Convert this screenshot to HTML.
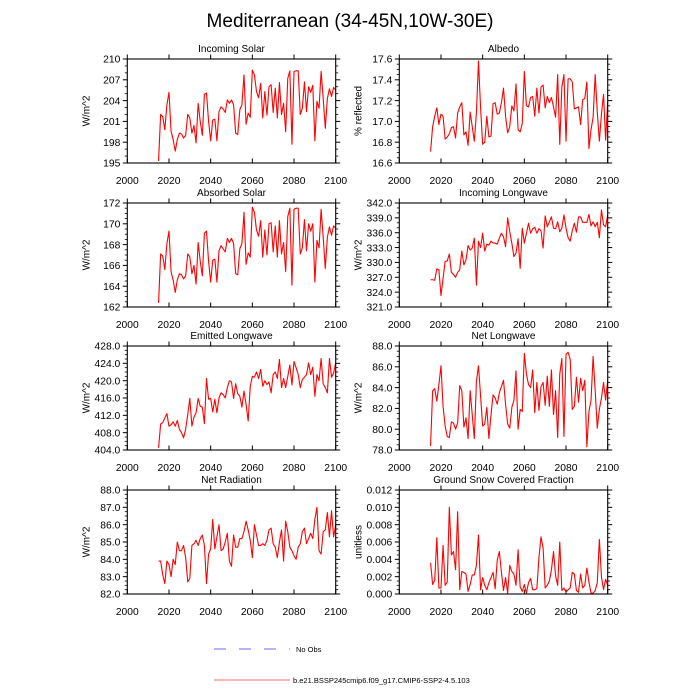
<!DOCTYPE html>
<html><head><meta charset="utf-8"><style>
html,body{margin:0;padding:0;background:#fff;}
svg{display:block;font-family:"Liberation Sans",sans-serif;}
</style></head><body>
<svg id="chart" width="700" height="700" viewBox="0 0 700 700">
<text x="350" y="27" text-anchor="middle" font-size="19">Mediterranean (34-45N,10W-30E)</text>
<g id="panels"></g>
<g>
<line x1="214" y1="649" x2="290" y2="649" stroke="#6b6bff" stroke-width="1" stroke-dasharray="12,13"/>
<text x="296" y="652" font-size="7.5">No Obs</text>
<line x1="214" y1="680" x2="290" y2="680" stroke="#f07070" stroke-width="1"/>
<text x="293" y="683" font-size="7.5">b.e21.BSSP245cmip6.f09_g17.CMIP6-SSP2-4.5.103</text>
</g>
</svg>
<script>
const years = []; for (let y = 2015; y <= 2100; y++) years.push(y);
const xTicks = [2000, 2020, 2040, 2060, 2080, 2100];
const incomingSolar = [195.3,202.0,201.7,199.8,203.4,205.2,199.6,198.4,196.7,198.4,199.3,199.2,198.6,199.0,202.0,201.5,199.3,200.4,197.9,203.6,201.0,199.0,204.9,205.1,201.0,198.2,201.2,201.3,198.2,202.4,203.1,202.8,202.3,204.1,203.6,204.1,203.4,199.3,199.1,202.7,203.4,207.7,200.6,202.2,201.6,208.4,207.7,205.3,204.4,206.5,201.5,205.3,201.9,206.0,206.3,202.3,205.8,201.5,206.6,202.0,203.6,199.5,207.2,208.3,197.7,208.2,208.3,208.3,202.0,202.9,206.7,202.4,206.0,205.2,206.2,198.2,203.9,202.9,208.2,204.3,200.0,204.3,205.7,204.6,205.9,205.5];
const albedo = [16.71,16.95,17.05,17.13,16.97,17.07,17.05,16.83,16.85,16.88,16.94,16.95,16.84,17.08,17.14,17.18,16.87,16.90,16.77,17.09,16.95,16.81,17.08,17.58,17.13,16.78,16.80,17.05,16.85,16.86,17.17,17.18,17.07,17.08,17.18,17.32,17.05,16.89,16.95,17.15,17.10,17.36,16.92,16.90,16.98,17.48,17.15,17.14,17.23,17.24,17.05,17.32,17.08,17.33,17.35,17.13,17.24,17.18,17.23,17.14,17.04,17.45,16.78,17.33,17.45,16.81,17.41,17.41,17.38,17.12,17.13,17.14,16.97,17.21,17.22,17.38,16.74,16.92,17.04,17.45,17.09,16.81,17.07,17.26,16.82,17.19];
const absorbedSolar = [162.4,167.1,166.9,165.6,168.1,169.3,165.4,164.6,163.4,164.6,165.2,165.1,164.7,165.0,167.1,166.8,165.2,166.0,164.2,168.2,166.4,165.0,169.1,169.3,166.4,164.4,166.5,166.6,164.4,167.4,167.9,167.6,167.3,168.6,168.2,168.6,168.1,165.2,165.1,167.6,168.1,171.1,166.1,167.2,166.8,171.6,171.1,169.4,168.8,170.3,166.8,169.4,167.0,170.0,170.1,167.3,169.8,166.8,170.3,167.1,168.2,165.4,170.7,171.5,164.1,171.4,171.5,171.5,167.1,167.7,170.4,167.4,170.0,169.3,170.0,164.4,168.4,167.7,171.4,168.7,165.7,168.7,169.7,168.9,169.8,169.6];
const incomingLW = [326.5,326.5,326.4,328.7,328.5,323.3,326.8,330.2,330.3,331.7,328.0,327.6,327.0,328.0,328.5,332.3,329.5,330.5,333.4,332.5,332.9,334.9,325.4,334.3,333.0,335.9,332.3,333.7,333.5,334.3,333.9,333.9,333.7,334.9,335.9,335.2,333.2,339.0,336.2,333.9,331.2,331.9,334.8,328.8,336.9,333.9,335.9,337.9,335.9,336.8,337.1,335.9,336.8,336.4,332.9,339.4,337.2,338.2,339.2,336.9,336.8,338.2,336.2,336.9,339.6,336.9,335.0,334.3,336.4,337.9,336.1,339.2,339.2,338.1,338.1,338.1,339.7,337.4,338.2,337.2,338.1,335.0,340.6,337.6,337.2,339.6];
const emittedLW = [404.5,410.0,410.3,411.4,412.4,409.5,409.8,410.5,409.5,410.8,408.8,408.0,406.8,408.8,412.2,415.9,409.5,411.6,412.6,415.9,414.1,413.9,410.1,420.5,415.7,415.9,412.8,415.7,412.6,416.0,417.2,416.8,416.0,418.4,420.0,419.7,415.9,419.3,417.0,416.4,413.9,417.6,414.5,410.7,418.7,421.0,420.8,422.0,420.5,422.6,418.7,420.0,419.1,419.7,417.2,421.4,422.0,420.5,424.9,418.4,420.5,418.4,421.0,423.6,419.0,424.4,423.0,421.4,418.4,420.3,420.8,421.4,424.1,421.4,423.1,416.4,421.4,420.0,425.1,419.3,418.4,417.2,425.1,420.8,421.8,424.1];
const netLW = [78.4,83.7,83.9,82.7,84.3,86.1,82.2,80.3,79.3,79.2,80.7,80.6,80.0,80.6,84.2,83.7,80.2,81.1,79.1,83.7,81.4,79.1,84.6,86.1,83.2,80.3,80.5,82.1,79.1,81.4,83.3,83.0,82.4,83.5,84.1,84.7,82.4,80.5,80.1,82.1,82.8,85.6,80.0,81.9,81.7,87.3,85.3,84.3,84.0,85.7,81.6,84.5,81.8,84.1,84.5,82.3,85.1,82.2,85.7,81.4,83.7,79.2,85.3,86.8,79.3,87.2,87.4,86.7,81.9,82.2,85.0,82.6,84.9,83.7,84.7,78.3,81.7,82.8,87.0,83.7,80.1,81.9,83.0,84.5,82.8,84.7];
const netRadiation = [83.9,83.9,83.1,82.6,83.9,83.7,83.0,84.0,83.7,85.0,84.5,84.5,84.8,84.1,82.7,82.9,84.8,84.9,85.1,84.8,85.2,85.4,84.8,82.6,84.3,84.6,86.3,84.6,85.3,86.0,84.5,84.6,85.0,85.5,83.9,83.6,85.4,84.7,84.7,85.2,85.2,85.6,86.2,85.7,85.1,84.1,86.0,85.4,84.8,84.8,84.9,84.8,85.1,85.7,85.8,84.9,84.7,84.1,85.0,85.7,83.9,86.2,85.6,84.7,84.5,84.2,84.0,84.7,84.9,85.6,85.8,84.9,85.2,85.5,85.2,86.3,87.0,84.5,84.3,85.6,85.7,86.7,85.3,86.8,85.3,86.0];
const snowFraction = [0.0036,0.0011,0.0016,0.0065,0.0007,0.0007,0.0056,0.0010,0.0014,0.0100,0.0045,0.0049,0.0028,0.0095,0.0005,0.0026,0.0025,0.0023,0.0003,0.0011,0.0022,0.0022,0.0033,0.0068,0.0005,0.0019,0.0010,0.0005,0.0013,0.0019,0.0025,0.0006,0.0039,0.0049,0.0025,0.0004,0.0019,0.0001,0.0033,0.0026,0.0023,0.0010,0.0051,0.0008,0.0003,0.0011,0.0001,0.0013,0.0018,0.0005,0.0005,0.0006,0.0042,0.0066,0.0053,0.0007,0.0010,0.0015,0.0028,0.0049,0.0021,0.0010,0.0060,0.0004,0.0007,0.0002,0.0005,0.0007,0.0025,0.0023,0.0004,0.0002,0.0023,0.0007,0.0010,0.0030,0.0014,0.0001,0.0001,0.0004,0.0013,0.0063,0.0020,0.0005,0.0017,0.0010];
const panelTitles = ["Incoming Solar","Albedo","Absorbed Solar","Incoming Longwave","Emitted Longwave","Net Longwave","Net Radiation","Ground Snow Covered Fraction"];
const yLabels = ["W/m^2","% reflected","W/m^2","W/m^2","W/m^2","W/m^2","W/m^2","unitless"];
const yMins = [195,16.6,162,321,404,78,82,0];
const yMaxs = [210,17.6,172,342,428,88,88,0.012];
const yMajor = [3,0.2,2,3,4,2,1,0.002];
const yMinorPer = [3,4,4,3,4,4,4,4];
const yDecimals = [0,1,0,1,1,1,1,3];
const seriesList = [incomingSolar,albedo,absorbedSolar,incomingLW,emittedLW,netLW,netRadiation,snowFraction];

const NS = "http://www.w3.org/2000/svg";
const root = document.getElementById("panels");
function mk(tag, attrs, parent) {
  const e = document.createElementNS(NS, tag);
  for (const k in attrs) e.setAttribute(k, attrs[k]);
  parent.appendChild(e);
  return e;
}
const colX = [127.3, 399.3], W = 208.4, H = 104;
const rowY = [59, 203, 346, 490];
for (let p = 0; p < 8; p++) {
  const left = colX[p % 2], top = rowY[Math.floor(p / 2)], right = left + W, bottom = top + H;
  const g = mk("g", {}, root);
  
  
  const xs = v => left + (v - 2000) / 100 * W;
  const ys = v => bottom - (v - yMins[p]) / (yMaxs[p] - yMins[p]) * H;
  const t = mk("text", {x: (left + right) / 2, y: top - 7, "text-anchor": "middle", "font-size": "10"}, g);
  t.textContent = panelTitles[p];
  
  
  const yl = mk("text", {x: 0, y: 0, "text-anchor": "middle", "font-size": "10", transform: `translate(${left - 38},${(top + bottom) / 2}) rotate(-90)`}, g);
  yl.textContent = yLabels[p];
  
  
  xTicks.forEach(v => {
    const x = xs(v);
    mk("line", {x1: x, y1: bottom, x2: x, y2: bottom - 4.5, stroke: "#000", "stroke-width": 1}, g);
    mk("line", {x1: x, y1: top, x2: x, y2: top - 4.5, stroke: "#000", "stroke-width": 1}, g);
    const lb = mk("text", {x: x, y: bottom + 21, "text-anchor": "middle", "font-size": "10.3"}, g);
    lb.textContent = v;
    
    
  });
  const nMaj = Math.round((yMaxs[p] - yMins[p]) / yMajor[p]);
  for (let i = 0; i <= nMaj; i++) {
    const v = yMins[p] + i * yMajor[p];
    const y = ys(v);
    mk("line", {x1: left, y1: y, x2: left - 4.5, y2: y, stroke: "#000", "stroke-width": 1}, g);
    mk("line", {x1: right, y1: y, x2: right + 4.5, y2: y, stroke: "#000", "stroke-width": 1}, g);
    const lb = mk("text", {x: left - 7, y: y + 3.7, "text-anchor": "end", "font-size": "10.3"}, g);
    lb.textContent = v.toFixed(yDecimals[p]);
    
    
    if (i < nMaj) {
      for (let m = 1; m < yMinorPer[p]; m++) {
        const ym = ys(v + m * yMajor[p] / yMinorPer[p]);
        mk("line", {x1: left, y1: ym, x2: left - 2.5, y2: ym, stroke: "#000", "stroke-width": 0.8}, g);
        mk("line", {x1: right, y1: ym, x2: right + 2.5, y2: ym, stroke: "#000", "stroke-width": 0.8}, g);
      }
    }
  }
  const pts = seriesList[p].map((v, i) => xs(years[i]).toFixed(2) + "," + ys(v).toFixed(2)).join(" ");
  const line = mk("polyline", {points: pts, fill: "none", stroke: "#ff0000", "stroke-width": 1.1, "stroke-linejoin": "round"}, g);
  
  
  const fr = mk("rect", {x: left, y: top, width: W, height: H, fill: "none", stroke: "#000", "stroke-width": 1.1}, g);
  
  
}
</script>
</body></html>
